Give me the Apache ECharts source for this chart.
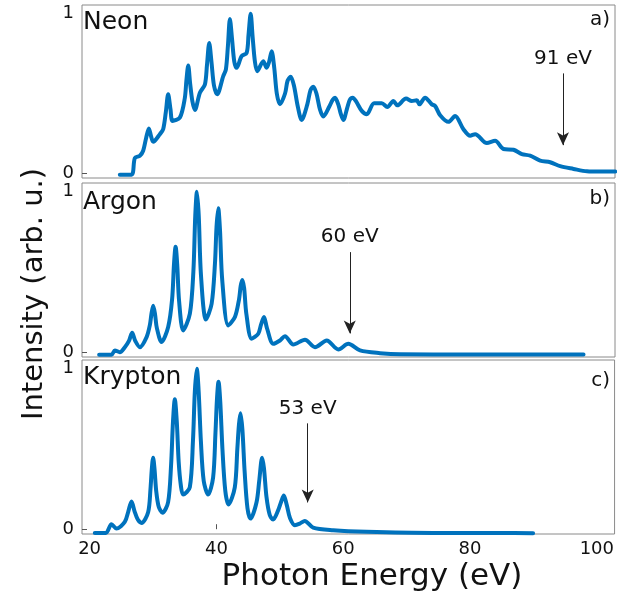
<!DOCTYPE html>
<html>
<head>
<meta charset="utf-8">
<script src="https://cdn.jsdelivr.net/npm/echarts@6/dist/echarts.min.js"></script>
<style>
html,body{margin:0;padding:0;background:#fff;}
#c{width:617px;height:599px;}
</style>
</head>
<body>
<div id="c"></div>
<script>
// Photon energy (eV) and normalized intensity for each gas
const neonE = [24.76,26.61,27.13,27.92,28.44,28.9,29.34,29.7,30.02,31.07,31.59,32.0,32.38,32.75,33.08,34.23,35.0,35.25,35.54,35.85,36.2,36.59,37.38,38.17,38.5,38.85,39.2,39.6,40.11,41.06,41.48,41.8,42.11,42.45,42.8,43.17,43.96,44.75,45.05,45.38,45.7,46.05,46.42,47.37,47.90,48.3,48.69,49.1,49.5,50.0,50.8,51.2,51.69,52.2,52.8,53.42,54.3,54.8,55.25,55.75,56.3,56.83,57.8,58.3,58.68,59.2,59.6,59.98,60.6,61.0,61.47,62.0,62.89,63.68,64.83,66.04,66.92,67.87,68.50,69.87,70.77,71.56,71.97,72.87,73.93,74.45,75.24,76.55,77.60,78.91,79.97,80.76,82.60,83.91,85.22,86.80,88.12,89.43,91.01,92.59,94.16,96.26,98.38,100.47,102.84];
const neonI = [-0.009,-0.009,0.095,0.110,0.141,0.22,0.281,0.23,0.197,0.245,0.276,0.38,0.495,0.40,0.328,0.349,0.47,0.58,0.676,0.56,0.45,0.397,0.505,0.557,0.68,0.817,0.70,0.55,0.495,0.609,0.651,0.80,0.967,0.84,0.70,0.661,0.734,0.755,0.87,1.0,0.85,0.70,0.640,0.702,0.661,0.70,0.765,0.66,0.50,0.432,0.50,0.58,0.605,0.55,0.42,0.334,0.43,0.52,0.543,0.50,0.40,0.356,0.42,0.46,0.474,0.43,0.37,0.334,0.41,0.46,0.474,0.45,0.391,0.370,0.439,0.439,0.415,0.453,0.426,0.468,0.453,0.457,0.432,0.474,0.432,0.422,0.364,0.322,0.359,0.276,0.235,0.245,0.189,0.203,0.152,0.147,0.120,0.110,0.079,0.069,0.044,0.027,0.012,0.010,0.010];

const argonE = [21.50,23.45,23.98,24.76,25.55,26.2,26.70,27.2,27.92,28.98,29.5,29.75,30.02,30.3,30.6,31.34,32.38,33.0,33.3,33.55,33.8,34.1,34.75,35.80,36.35,36.65,36.91,37.2,37.55,38.33,39.23,39.75,40.0,40.27,40.55,40.9,41.85,42.90,43.55,43.8,44.05,44.35,44.7,45.54,46.58,47.0,47.48,47.95,48.94,50.0,50.79,52.10,53.94,55.52,57.37,59.20,60.77,62.62,65.77,68.93,79.45,89.95,97.84];
const argonI = [-0.016,-0.016,0.011,0.0,0.031,0.07,0.121,0.07,0.031,0.094,0.17,0.24,0.290,0.24,0.15,0.063,0.157,0.33,0.55,0.658,0.55,0.32,0.136,0.240,0.50,0.85,1.0,0.85,0.48,0.204,0.302,0.55,0.78,0.898,0.76,0.45,0.167,0.219,0.33,0.41,0.450,0.40,0.24,0.084,0.115,0.17,0.219,0.15,0.052,0.073,0.100,0.048,0.078,0.031,0.073,0.017,0.052,0.011,-0.006,-0.013,-0.014,-0.014,-0.014];

const kryptonE = [20.82,22.55,23.45,24.24,25.55,26.1,26.61,27.1,27.6,28.19,29.23,29.6,29.8,30.02,30.25,30.5,30.9,31.50,32.38,32.85,33.15,33.44,33.75,34.05,34.4,34.75,35.80,36.3,36.6,36.91,37.2,37.55,38.0,38.69,39.48,39.85,40.1,40.33,40.6,40.95,41.4,41.91,42.90,43.3,43.55,43.80,44.1,44.45,44.9,45.38,46.33,46.75,47.21,47.5,47.9,48.4,48.94,49.73,50.2,50.63,51.1,51.6,52.37,53.15,53.94,55.25,58.41,63.68,74.18,84.70,89.95];
const kryptonI = [-0.023,-0.023,0.031,0.004,0.045,0.11,0.173,0.11,0.06,0.039,0.106,0.25,0.37,0.446,0.37,0.24,0.14,0.103,0.168,0.40,0.67,0.811,0.67,0.42,0.27,0.216,0.261,0.55,0.86,1.0,0.86,0.55,0.30,0.216,0.323,0.60,0.82,0.920,0.80,0.50,0.24,0.154,0.261,0.50,0.65,0.723,0.62,0.36,0.13,0.066,0.168,0.30,0.446,0.38,0.20,0.09,0.060,0.117,0.17,0.210,0.15,0.07,0.025,0.035,0.051,0.010,-0.006,-0.016,-0.023,-0.023,-0.025];

const gasNames = ['Neon','Argon','Krypton'];
const panelTags = ['a)','b)','c)'];
const cutoffLabels = ['91 eV','60 eV','53 eV'];
const cutoffX = [94.6, 61.0, 54.4];
const cutoffTop = [0.626, 0.624, 0.66];
const cutoffTip = [0.176, 0.117, 0.167];
const xTicks = [20,40,60,80,100];
const yTicks = [0,1];

const energies = [neonE, argonE, kryptonE];
const intens = [neonI, argonI, kryptonI];

const FONT = 'DejaVu Sans';
const BLUE = '#0072BD';
const grids = [
  {left:82, right:2, top:5, height:173},
  {left:82, right:2, top:183, height:174},
  {left:82, right:2, top:360, height:174}
].map(g => Object.assign({show:true, borderColor:'#8a8a8a', borderWidth:1, backgroundColor:'transparent'}, g));

const xAxes = grids.map((g,i) => ({
  type:'value', gridIndex:i, min:18.8, max:102.8,
  show: i===2,
  splitLine:{show:false},
  axisLine:{show:false},
  axisTick:{show:true, inside:true, length:5, lineStyle:{color:'#555'}, customValues:[40]},
  axisLabel:{show:i===2, customValues:xTicks, fontSize:18, color:'#111', fontFamily:FONT, margin:6}
}));
const yAxes = grids.map((g,i) => ({
  type:'value', gridIndex:i, min:-0.03, max:1.055,
  splitLine:{show:false},
  axisLine:{show:false},
  axisTick:{show:true, inside:true, length:5, lineStyle:{color:'#555'}, customValues:[0]},
  axisLabel:{customValues:yTicks, fontSize:18, color:'#111', fontFamily:FONT, margin:8}
}));

const series = energies.map((E,i) => ({
  type:'line', xAxisIndex:i, yAxisIndex:i,
  data: E.map((x,k)=>[x, intens[i][k]]),
  showSymbol:false, smooth:0.3,
  lineStyle:{color:BLUE, width:4, join:'round', cap:'round'},
  clip:true,
  markLine:{
    silent:true, animation:false,
    symbol:['none','arrow'], symbolSize:[9,13],
    lineStyle:{color:'#222', width:1, type:'solid'},
    label:{show:true, position:'start', formatter:cutoffLabels[i], fontSize:20, color:'#111', fontFamily:FONT, distance:5},
    data:[[{coord:[cutoffX[i], cutoffTop[i]]},{coord:[cutoffX[i], cutoffTip[i]]}]]
  }
}));

const nameTops = [10, 190, 365];
const tagTops = [10, 189, 371];
const titles = [];
gasNames.forEach((n,i)=>{
  titles.push({text:n, left:83, top:nameTops[i], padding:0,
    textStyle:{fontSize:25, fontWeight:'normal', color:'#111', fontFamily:FONT}});
  titles.push({text:panelTags[i], right:7, top:tagTops[i], padding:0,
    textStyle:{fontSize:20, fontWeight:'normal', color:'#111', fontFamily:FONT}});
});

const chart = echarts.init(document.getElementById('c'), null, {renderer:'canvas'});
chart.setOption({
  animation:false,
  backgroundColor:'#fff',
  grid:grids, xAxis:xAxes, yAxis:yAxes, series:series, title:titles,
  graphic:[
    {type:'text', x:372, y:577, style:{text:'Photon Energy (eV)', font:'31px "DejaVu Sans"', fill:'#111', textAlign:'center', textVerticalAlign:'middle'}},
    {type:'text', x:34, y:294, rotation:Math.PI/2, style:{text:'Intensity (arb. u.)', font:'29px "DejaVu Sans"', fill:'#111', textAlign:'center', textVerticalAlign:'middle'}}
  ]
});
</script>
</body>
</html>
